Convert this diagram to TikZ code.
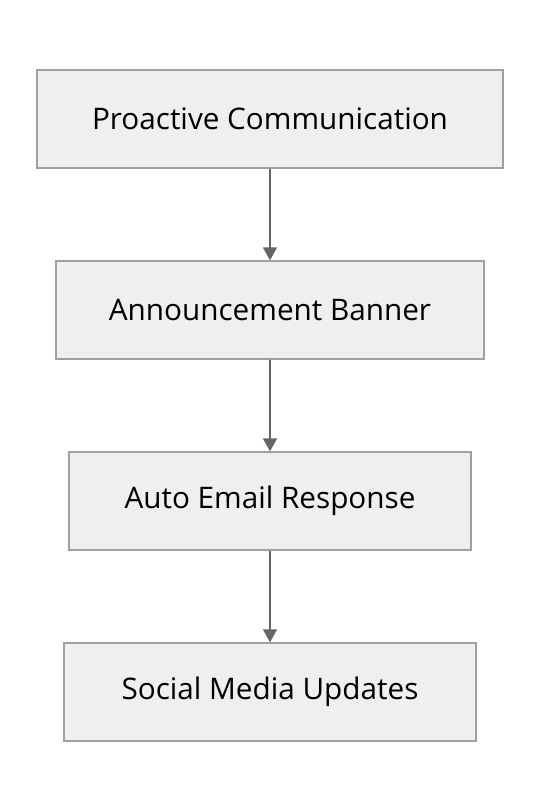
\documentclass[tikz,border=0pt]{standalone}
\usepackage{fontspec}
\setmainfont{Open Sans}
\usetikzlibrary{arrows.meta}
\definecolor{boxfill}{HTML}{EFEFEF}
\definecolor{boxline}{HTML}{A0A0A0}
\definecolor{arrowline}{HTML}{666666}
\tikzset{
  stepbox/.style={draw=boxline,fill=boxfill,line width=1.3pt,rectangle,minimum height=98pt,inner sep=0pt,font={\fontsize{29.7}{35}\selectfont}},
  flow/.style={draw=arrowline,line width=1.6pt,-{Triangle[length=13pt,width=14pt]}}
}
\begin{document}
\begin{tikzpicture}[x=1pt,y=1pt]
\useasboundingbox (0,0) rectangle (540,-812);

\node[stepbox,minimum width=466pt] (proactive) at (270,-119) {Proactive Communication};
\node[stepbox,minimum width=428pt] (banner) at (270,-310) {Announcement Banner};
\node[stepbox,minimum width=402pt] (email) at (270,-501) {Auto Email Response};
\node[stepbox,minimum width=412pt] (social) at (270,-692) {Social Media Updates};

\draw[flow] (proactive) -- (banner);
\draw[flow] (banner) -- (email);
\draw[flow] (email) -- (social);

\end{tikzpicture}
\end{document}
